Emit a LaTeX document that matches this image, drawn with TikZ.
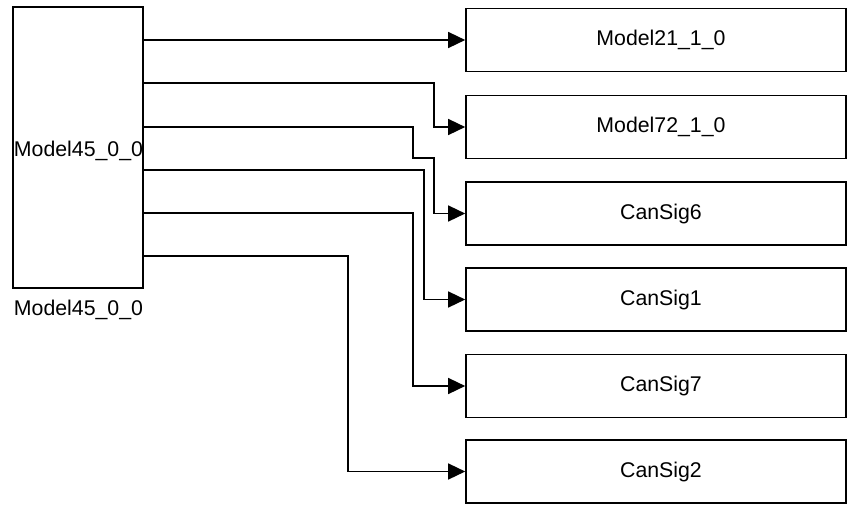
\documentclass[tikz,border=0pt]{standalone}
\usepackage{fontspec}
\setmainfont{Liberation Sans}
\usetikzlibrary{arrows.meta}
\begin{document}
\begin{tikzpicture}[x=1pt,y=-1pt,
  blk/.style={draw,line width=1.6pt,rectangle,inner sep=0pt,anchor=center},
  srcblk/.style={blk,minimum width=130pt,minimum height=281pt},
  dstblk/.style={blk,minimum width=380pt,minimum height=63pt,font=\fontsize{21.3}{24}\selectfont,
    execute at begin node={\hspace*{10pt}}},
  txt/.style={font=\fontsize{21.3}{24}\selectfont,inner sep=0pt},
  conn/.style={line width=1.4pt,-{Triangle[length=17pt,width=16pt]}}]
\useasboundingbox (0,0) rectangle (847,504);

% source block and its labels
\node[srcblk] (src) at (78,147.5) {};
\node[txt] (srclbl) at (78.5,151) {Model45\_0\_0};
\node[txt] (srcname) at (78.5,310) {Model45\_0\_0};

% output ports on the right side of the source block
\coordinate (p1) at (143,40);
\coordinate (p2) at (143,83);
\coordinate (p3) at (143,127);
\coordinate (p4) at (143,170);
\coordinate (p5) at (143,213);
\coordinate (p6) at (143,256);

% destination blocks
\node[dstblk] (m21) at (656,40)    {Model21\_1\_0};
\node[dstblk] (m72) at (656,127)   {Model72\_1\_0};
\node[dstblk] (c6)  at (656,213.5) {CanSig6};
\node[dstblk] (c1)  at (656,299.5) {CanSig1};
\node[dstblk] (c7)  at (656,386)   {CanSig7};
\node[dstblk] (c2)  at (656,471.5) {CanSig2};

% signal lines
\draw[conn] (p1) -- (m21.west);
\draw[conn] (p2) -- (434,83) |- (m72.west);
\draw[conn] (p3) -- (413,127) -- (413,158) -- (434,158) |- (c6.west);
\draw[conn] (p4) -- (424,170) |- (c1.west);
\draw[conn] (p5) -- (413,213) |- (c7.west);
\draw[conn] (p6) -- (348,256) |- (c2.west);
\end{tikzpicture}
\end{document}
